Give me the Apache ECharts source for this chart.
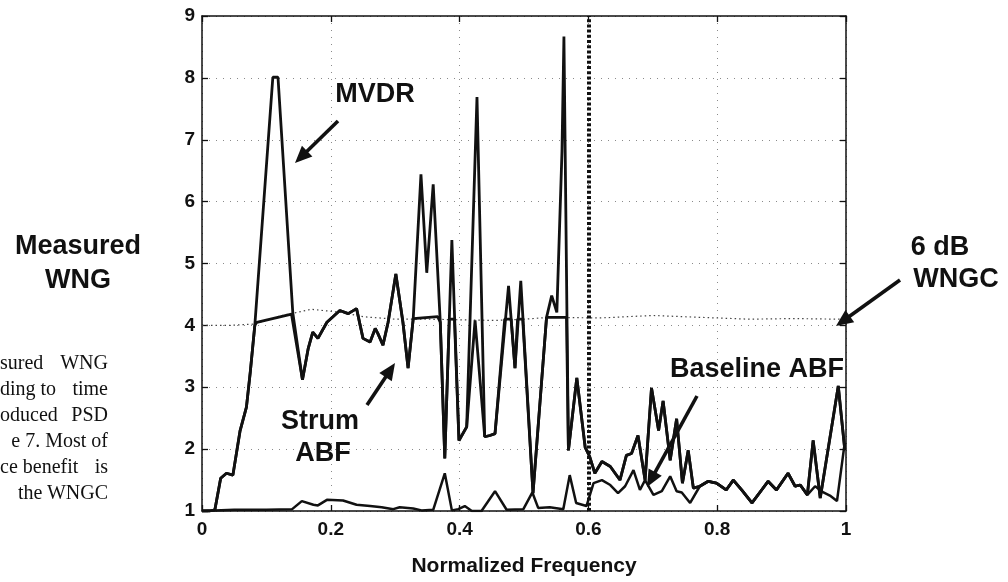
<!DOCTYPE html>
<html>
<head>
<meta charset="utf-8">
<script src="https://cdn.jsdelivr.net/npm/echarts@6/dist/echarts.min.js"></script>
<style>
  html,body{margin:0;padding:0;background:#fff;}
  #chart{width:1008px;height:582px;}
</style>
</head>
<body>
<div id="chart"></div>
<script>
// ---- data (x = normalized frequency, y = measured WNG) ----
const xTicks = [0, 0.2, 0.4, 0.6, 0.8, 1];
const yTicks = [1, 2, 3, 4, 5, 6, 7, 8, 9];

const mvdr = [
  [0,1.0],[0.012,1.0],[0.02,1.02],[0.029,1.53],[0.038,1.61],[0.048,1.58],[0.059,2.29],[0.069,2.68],[0.075,3.25],[0.082,4.0],
  [0.110,8.01],[0.118,8.01],[0.141,4.2],[0.156,3.12],[0.165,3.63],[0.172,3.89],[0.180,3.79],[0.194,4.05],[0.214,4.24],[0.227,4.19],
  [0.240,4.27],[0.250,3.79],[0.261,3.73],[0.269,3.95],[0.273,3.87],[0.281,3.68],[0.289,4.05],[0.301,4.83],[0.312,4.05],[0.320,3.31],
  [0.328,4.11],[0.340,6.44],[0.349,4.85],[0.359,6.28],[0.370,4.05],[0.377,1.85],[0.388,5.38],[0.399,2.14],[0.411,2.36],[0.427,7.69],
  [0.439,2.2],[0.447,2.22],[0.455,2.25],[0.476,4.64],[0.486,3.31],[0.495,4.72],[0.514,1.29],[0.535,4.13],[0.543,4.48],[0.551,4.21],
  [0.559,6.82],[0.562,8.67],[0.569,1.98],[0.582,3.15],[0.595,2.03],[0.602,1.88],[0.610,1.61],[0.621,1.8],[0.634,1.72],[0.649,1.5],
  [0.659,1.9],[0.667,1.93],[0.677,2.22],[0.688,1.5],[0.698,2.99],[0.709,2.3],[0.716,2.78],[0.727,1.82],[0.737,2.49],[0.746,1.45],
  [0.755,1.98],[0.763,1.37],[0.773,1.4],[0.786,1.48],[0.799,1.45],[0.814,1.34],[0.825,1.5],[0.838,1.34],[0.854,1.13],[0.869,1.34],
  [0.879,1.48],[0.892,1.34],[0.910,1.61],[0.921,1.4],[0.929,1.42],[0.940,1.26],[0.949,2.14],[0.960,1.21],[0.988,3.02],[0.998,2.0]
];

const strumAbf = [
  [0,1.0],[0.012,1.0],[0.02,1.02],[0.029,1.53],[0.038,1.61],[0.048,1.58],[0.059,2.29],[0.069,2.68],[0.075,3.25],[0.082,4.0],
  [0.085,4.05],[0.139,4.18],[0.156,3.12],[0.165,3.63],[0.172,3.89],[0.180,3.79],[0.194,4.05],[0.214,4.24],[0.227,4.19],[0.240,4.27],
  [0.250,3.79],[0.261,3.73],[0.269,3.95],[0.273,3.87],[0.281,3.68],[0.289,4.05],[0.301,4.83],[0.312,4.05],[0.320,3.31],[0.328,4.11],
  [0.366,4.14],[0.370,4.05],[0.377,1.85],[0.384,4.1],[0.392,4.1],[0.399,2.14],[0.411,2.36],[0.424,4.08],[0.439,2.2],[0.447,2.22],
  [0.455,2.25],[0.470,4.1],[0.480,4.1],[0.486,3.31],[0.490,4.1],[0.498,4.1],[0.514,1.29],[0.535,4.13],[0.566,4.13],[0.569,1.98],
  [0.582,3.15],[0.595,2.03],[0.602,1.88],[0.610,1.61],[0.621,1.8],[0.634,1.72],[0.649,1.5],[0.659,1.9],[0.667,1.93],[0.677,2.22],
  [0.688,1.5],[0.698,2.99],[0.709,2.3],[0.716,2.78],[0.727,1.82],[0.737,2.49],[0.746,1.45],[0.755,1.98],[0.763,1.37],[0.773,1.4],
  [0.786,1.48],[0.799,1.45],[0.814,1.34],[0.825,1.5],[0.838,1.34],[0.854,1.13],[0.869,1.34],[0.879,1.48],[0.892,1.34],[0.910,1.61],
  [0.921,1.4],[0.929,1.42],[0.940,1.26],[0.949,2.14],[0.960,1.21],[0.988,3.02],[0.998,2.0]
];

const baselineAbf = [
  [0,1.0],[0.05,1.02],[0.1,1.02],[0.14,1.03],[0.155,1.16],[0.173,1.1],[0.18,1.09],[0.194,1.18],[0.219,1.17],[0.240,1.1],
  [0.261,1.08],[0.279,1.06],[0.297,1.03],[0.307,1.06],[0.328,1.04],[0.341,1.01],[0.359,1.02],[0.377,1.61],[0.388,1.01],[0.398,1.03],
  [0.408,1.08],[0.419,1.0],[0.434,1.0],[0.455,1.32],[0.473,1.02],[0.499,1.03],[0.513,1.3],[0.522,1.05],[0.540,1.06],[0.561,1.03],
  [0.571,1.58],[0.581,1.13],[0.597,1.08],[0.608,1.45],[0.621,1.5],[0.634,1.42],[0.646,1.29],[0.657,1.4],[0.670,1.66],[0.680,1.34],
  [0.688,1.5],[0.701,1.26],[0.714,1.32],[0.727,1.56],[0.737,1.32],[0.745,1.3],[0.758,1.13],[0.773,1.4],[0.786,1.48],[0.799,1.45],
  [0.814,1.34],[0.825,1.5],[0.838,1.34],[0.854,1.13],[0.869,1.34],[0.879,1.48],[0.892,1.34],[0.910,1.61],[0.921,1.4],[0.929,1.42],
  [0.940,1.26],[0.952,1.4],[0.965,1.3],[0.975,1.25],[0.986,1.16],[0.998,2.1]
];

const wngc6dB = [
  [0,4.0],[0.04,4.0],[0.08,4.02],[0.12,4.15],[0.17,4.26],[0.216,4.21],[0.25,4.14],[0.3,4.1],[0.35,4.1],[0.4,4.09],
  [0.455,4.08],[0.5,4.1],[0.54,4.13],[0.618,4.12],[0.66,4.14],[0.7,4.16],[0.773,4.13],[0.85,4.1],[0.92,4.11],[0.99,4.1]
];

const cutoffFreq = 0.597;

// ---- chart ----
const FONT = "'Liberation Sans', Arial, Helvetica, sans-serif";
const SERIF = "'Liberation Serif', 'Times New Roman', serif";
const INK = '#111';

const chart = echarts.init(document.getElementById('chart'), null, {renderer: 'canvas', width: 1008, height: 582});

const curveStyle = {color: INK, width: 2.8};
function lineSeries(name, data, style, extra) {
  return Object.assign({
    name: name, type: 'line', data: data, xAxisIndex: 0, yAxisIndex: 0,
    symbol: 'none', showSymbol: false, smooth: false, animation: false,
    lineStyle: style, itemStyle: {color: style.color}, z: 3
  }, extra || {});
}

const baseAxis = {
  type: 'value', min: 0, max: 1, interval: 0.2,
  axisLine: {show: true, onZero: false, lineStyle: {color: INK, width: 1.5}},
  axisTick: {show: true, inside: true, length: 6, lineStyle: {color: INK, width: 1.3}},
};

const option = {
  backgroundColor: '#fff',
  animation: false,
  grid: {left: 202, right: 162, top: 16, bottom: 64, containLabel: false},
  xAxis: [
    Object.assign({}, baseAxis, {
      position: 'bottom',
      name: 'Normalized Frequency', nameLocation: 'middle', nameGap: 45,
      nameTextStyle: {fontFamily: FONT, fontWeight: 'bold', fontSize: 21, color: INK},
      axisLabel: {fontFamily: FONT, fontWeight: 'bold', fontSize: 19, color: INK, margin: 9,
                  formatter: v => String(+v.toFixed(1))},
      splitLine: {show: true, lineStyle: {color: '#8a8a8a', width: 1, type: [1, 6]}}
    }),
    Object.assign({}, baseAxis, {
      position: 'top', axisLabel: {show: false}, splitLine: {show: false}
    })
  ],
  yAxis: [
    Object.assign({}, baseAxis, {
      min: 1, max: 9, interval: 1, position: 'left',
      axisLabel: {fontFamily: FONT, fontWeight: 'bold', fontSize: 19, color: INK, margin: 7},
      splitLine: {show: true, lineStyle: {color: '#8a8a8a', width: 1, type: [1, 6]}}
    }),
    Object.assign({}, baseAxis, {
      min: 1, max: 9, interval: 1, position: 'right',
      axisLabel: {show: false}, splitLine: {show: false}
    })
  ],
  series: [
    lineSeries('6 dB WNGC', wngc6dB, {color: '#444', width: 1.2, type: [1.5, 3]}, {z: 2}),
    lineSeries('Baseline ABF', baselineAbf, {color: INK, width: 2.5}),
    lineSeries('Strum ABF', strumAbf, curveStyle),
    lineSeries('MVDR', mvdr, curveStyle, {
      markLine: {
        silent: true, symbol: ['none', 'none'], label: {show: false}, animation: false,
        lineStyle: {color: INK, width: 4, type: [3, 2.2]},
        data: [{xAxis: cutoffFreq}]
      }
    })
  ],
  graphic: []
};

chart.setOption(option);

// ---- annotations (text + arrows) ----
function arrow(x1, y1, x2, y2) {
  const dx = x2 - x1, dy = y2 - y1, L = Math.hypot(dx, dy), ux = dx / L, uy = dy / L;
  const hl = 17, hw = 7.5;
  const bx = x2 - ux * hl, by = y2 - uy * hl;
  return [
    {type: 'line', silent: true, z: 10, shape: {x1: x1, y1: y1, x2: bx + ux * 2, y2: by + uy * 2},
     style: {stroke: INK, lineWidth: 3.6}},
    {type: 'polygon', silent: true, z: 10,
     shape: {points: [[x2, y2], [bx - uy * hw, by + ux * hw], [bx + uy * hw, by - ux * hw]]},
     style: {fill: INK}}
  ];
}
function label(text, x, y, size, align, font, weight) {
  return {type: 'text', silent: true, z: 10, x: x, y: y,
    style: {text: text, fill: INK, font: (weight || 'bold') + ' ' + size + 'px ' + (font || FONT),
            textAlign: align || 'center', textVerticalAlign: 'middle'}};
}

const g = [];
g.push(label('MVDR', 375, 95, 27));
g.push(...arrow(338, 121, 295, 163));
g.push(label('Strum', 320, 422, 27));
g.push(label('ABF', 323, 454, 27));
g.push(...arrow(367, 405, 395, 363));
g.push(label('Baseline ABF', 757, 370, 27));
g.push(...arrow(697, 396, 647, 487));
g.push(label('Measured', 78, 247, 27));
g.push(label('WNG', 78, 281, 27));
g.push(label('6 dB', 940, 248, 27));
g.push(label('WNGC', 956, 280, 27));
g.push(...arrow(900, 280, 836, 326));

// fragment of neighbouring column text
const para = [['sured', 'WNG'], ['ding to', 'time'], ['oduced', 'PSD'], ['e 7. Most', 'of'], ['ce benefit', 'is'], ['the', 'WNGC']];
para.forEach((p, i) => {
  const y = 364 + i * 26;
  if (i === 3) {
    g.push(label('e 7. Most of', 108, y, 20, 'right', SERIF, 'normal'));
  } else if (i === 5) {
    g.push(label('the', 18, y, 20, 'left', SERIF, 'normal'));
    g.push(label('WNGC', 108, y, 20, 'right', SERIF, 'normal'));
  } else {
    g.push(label(p[0], 0, y, 20, 'left', SERIF, 'normal'));
    g.push(label(p[1], 108, y, 20, 'right', SERIF, 'normal'));
  }
});

chart.setOption({graphic: g});
</script>
</body>
</html>
